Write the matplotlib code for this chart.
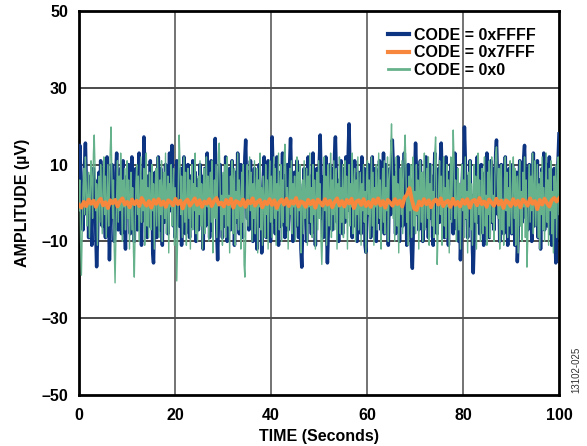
import numpy as np
import matplotlib
matplotlib.use("Agg")
import matplotlib.pyplot as plt

plt.rcParams['font.family'] = ['Liberation Sans', 'DejaVu Sans']

# CODE = 0xFFFF (navy), 600 samples over 100 s
code_ffff = [
    3, 15, 8, -2, 5, -7, 2, 10, 15.6, 6, -3, 4, -9, 1, 7, -5, -11, 3, 9, -2, 6, -8, -16.6, -10, 2, 8, -4, 11, 5, -6,
    1, 9, -3, -9, 4, 12, 7, -2, -14.8, -6, 3, 10, -1, 6, -10, -4, 8, 13, 2, -7, 5, -3, 9, -8, 0, 11, 4, -5, -12, 2,
    7, -3, 10, 5, -8, 1, 12, -4, 6, -10, 3, 9, -1, -7, 4, 13, 8, -2, -11, 5, 2, 17.2, 10, -5, 3, -9, 7, 1, -6, 11,
    -2, 6, -13, -15.6, -4, 8, 2, -9, 5, 12, -1, -7, 9, 3, -11, 6, 1, -5, 10, -3, 7, -8, 4, 13, -2, 8, 15, 5, -6, 2,
    -9, 4, 11, -3, 7, -6, 1, 9, -11, -2, 6, 12, 3, -8, 5, -4, 10, -1, -9, 7, 2, -6, 11, 4, -3, 8, -10, 1, 6, -7,
    3, 10, -5, 7, -2, -12, 4, 9, -6, 1, 13, -3, 6, -9, 2, 11, -7, 5, -1, 8, 16.8, 3, -8, -14.8, -5, 6, 10, -2, 4, -9,
    7, 1, -6, 12, 3, -10, 5, -3, 9, -7, 2, 11, -4, 6, -11, 0, 8, -5, 13, 2, -8, 4, 10, -3, -9, 6, 1, 12, 16.4, 5,
    -4, 8, -7, 2, 11, -5, 6, -10, 1, 9, -3, 7, -12, 4, -2, 10, -6, 3, -13, -8, 5, 12, -1, 7, -9, 2, 11, -4, 6, -10,
    3, 17.2, 9, -5, 1, -8, 6, 12, -2, -11, 4, 8, -6, 2, 13, -3, 7, -9, 5, -1, 10, -7, 3, 11, 16.8, 6, -4, -10, 2, 8,
    -6, 4, 11, -3, -9, 5, 1, -12, -16.7, -7, 3, 9, -2, 6, -10, 2, 12, -5, 7, -1, -8, 4, 13, -4, 6, -11, 1, 9, -3, 5,
    11, 17.7, 6, -4, 2, -9, 7, -2, 12, -6, -15.6, -8, 3, 10, -1, 5, -7, 9, 2, 13, 17.2, 8, -5, 1, -10, 6, -3, 11, 4, -8,
    2, 9, -5, 12, 6, -2, 13, 20.6, 10, -4, 3, -9, 7, -1, 11, -6, 4, -10, 2, 8, -3, 6, -8, 12, 1, -5, 9, -11, -12.8, -4,
    5, 10, -3, 7, -9, 2, 12, -6, 4, -1, 9, -10, 3, 8, -5, 11, 0, -7, 6, -2, 13, -8, 4, 10, -4, 7, -11, 1, 9, -3,
    6, 16.4, 11, -2, 4, -8, 8, -4, 12, 2, -10, 5, -1, 9, -6, 3, 13, -3, 7, -11, 1, 10, -5, 6, -8, -13, -17, -9, 4, 8,
    15.6, 9, -3, 6, -7, 2, 11, -5, 4, -10, 1, 8, -2, 12, -6, 5, -9, 3, 10, -4, 7, -1, -11, 4, 13, -3, 6, -8, 2, 9,
    -5, 11, 15.6, 7, -2, 4, -9, 1, 12, -6, 3, -11, 8, -1, 10, -4, 6, -8, 2, 13, -3, 9, -7, 5, -10, 1, -14.8, -8, 4, 10,
    6, 19.8, 12, -4, 3, -9, 7, -1, 11, -6, 2, -12, -18.2, -10, 5, 9, -3, 12, -5, 4, -8, 1, 10, -2, 6, -11, 3, 8, -4, 13,
    -2, 7, -9, 4, 11, -5, 1, 9, -7, 3, 13, 16.4, 8, -3, 5, -10, 2, 10, -4, 6, -8, 1, 12, -2, 7, -11, 4, 9, -5, 3,
    -8, 10, -3, 6, -11, 2, 8, -15.3, -9, 4, 11, -1, 7, -5, 3, 12, 15, 6, -4, 9, -7, 1, 10, -3, 5, -10, 2, 13, -6, 4,
    8, -4, 11, -9, 2, 6, -12, 1, 9, -3, 13, -7, 5, -2, 10, -6, 4, 12, -8, 3, -11, 7, -1, 9, -5, -15.6, -9, 6, 12, 18,
]

# CODE = 0x0 (green), 600 samples over 100 s
code_0 = [
    -2, 6, -10, -18.8, -7, 4, 9, -3, 12, 5, -6, 2, 8, -9, 1, 11, 6, -4, 13, 17.7, 9, -2, 5, -11, 3, 7, -5, 10, 2, -8,
    4, 12, -3, 7, -9, 1, 10, -6, 3, 14, 19.8, 8, -4, 6, -12, -20.8, -9, 2, 11, -5, 7, -2, 13, 4, -10, 6, -1, 9, -7, 3,
    11, -4, 6, -12, 2, 8, -7, 4, -13, -19.3, -8, 5, 10, -3, 7, -10, 1, 12, -5, 6, -2, 9, -11, 3, 13, -6, 4, -9, 8, 1,
    -7, 10, -2, 5, -12, 3, 9, -6, 12, 1, -9, 6, -3, 11, -10, 4, 8, -4, 13, -8, 2, 7, -13, 5, -1, 10, -6, 3, 9, -11,
    4, -8, -20.3, -10, 6, 17.7, 11, -3, 7, -9, 2, 12, -5, 8, -11, 1, 9, -4, 6, -12, 3, 10, -7, 5, -2, 13, -8, 4, -10, 7,
    -3, 11, -6, 5, -12, 2, 9, -8, 4, 12, -1, 7, -10, 3, 8, -5, 11, -13, 1, 6, -4, 10, -9, 5, 13, 15.6, 6, -7, 2, -11,
    8, -3, 10, -9, 4, 12, -6, 2, -13, 7, -1, 11, -8, 5, 9, -11, 3, -4, 13, -7, 6, 1, -12, 8, -5, 10, -16, -19.3, -9, 4,
    10, -6, 3, 12, -2, 8, -10, 5, -4, 11, -8, 2, 9, -13, 6, -1, 13, -7, 4, -11, 7, 1, -9, 10, -3, 6, -12, 3, 11, -5,
    7, -9, 2, 12, -4, 9, -11, 5, -2, 13, -7, 3, 10, -10, 6, -5, 12, 15.3, 8, -6, 4, -12, 1, 9, -3, 11, -8, 5, -1, 7,
    -10, 4, 12, -6, 8, -2, 10, -13, 3, 6, -8, 11, -4, 2, 9, -11, 7, -1, 13, -5, 4, -9, 10, -3, 6, -12, 2, 8, -7, 11,
    -4, 5, -10, -16, -8, 3, 12, -2, 7, -11, 4, 10, -6, 1, 13, -9, 6, -3, 11, -7, 2, 9, -12, 5, -1, 12, -8, 4, -5, 10,
    -9, 3, 11, -4, 7, -12, 2, 10, -6, 5, -1, 13, -8, 4, 9, -10, 6, -3, 12, -7, 1, 8, -11, 5, -2, 10, -5, 3, -13, 7,
    11, -3, 6, -9, 2, 12, -6, 8, -11, 4, -1, 10, -7, 3, 13, -4, 6, -12, 1, 9, -5, 11, -8, 4, -2, 12, -10, 6, 9, 14,
    20.6, 10, -4, 7, -10, 3, 12, -6, 5, -13, 1, 9, -3, 11, -8, 6, 13, 17.7, 9, -5, 2, -11, 7, -2, 10, -9, 4, 12, -6, 3,
    -8, 10, -3, 6, -12, 2, 11, -5, 8, -10, 4, 13, -7, 1, 9, -4, 12, -11, 5, -1, 10, -6, 3, -9, 13, 17.2, 7, -16, -8, 5,
    11, -3, 7, -11, 2, 12, -6, 4, -9, 10, -1, 6, -13, 3, 12, -5, 8, 19, 11, -4, 6, -10, 1, 9, -7, 5, -12, 3, 10, -2,
    6, -9, 12, -4, 3, -13, 8, -1, 11, -7, 5, -11, 2, 10, -5, 7, -12, 4, 13, -3, 6, -10, 1, 9, -8, 4, 12, -6, 2, -11,
    8, -3, 11, -9, 5, 12, -5, 2, -10, 7, 13, 14.6, 6, -4, 9, -12, 3, 10, -7, 1, -11, 6, 12, -2, 8, -9, 4, -6, 11, -1,
    -8, 5, 12, -4, 9, -11, 2, 7, -13, 4, 11, -6, 3, -10, 8, -1, 12, -9, 6, -16.7, -10, 3, 10, -5, 7, -2, 13, -8, 4, 11,
    -6, 2, 10, -9, 5, -12, 8, -3, 12, -7, 4, -10, 1, 13, -5, 6, -11, 9, -2, 11, -8, 3, -13, 7, -4, 10, -9, 5, 12, -3,
]

# CODE = 0x7FFF (orange), 200 samples over 100 s
code_7fff = [
    -0.5, -1.2, 0.3, -0.8, 0.9, -0.2, 0.6, -1.0, 0.4, 1.1, -0.6, 0.2, -1.3, 0.7, -0.1, 0.8, -0.9, 0.5, 1.2, -0.4,
    0.3, -1.1, 0.9, -0.3, 0.6, -0.8, 1.3, 0.1, -0.7, 0.5, -1.2, 0.8, -0.2, 1.0, -0.5, 0.4, -1.0, 0.7, 0.2, -0.6,
    1.1, -0.3, 0.6, -1.4, 0.3, 0.9, -0.7, 0.2, 1.2, -0.5, 0.7, -1.0, 0.4, -0.2, 1.0, -0.8, 0.5, 1.3, -0.4, 0.1,
    -0.9, 0.8, -0.3, 1.1, -1.2, 0.5, 0.2, -0.6, 0.9, -1.0, 0.6, -0.1, 1.2, -0.7, 0.3, 0.8, -1.1, 0.4, -0.3, 1.0,
    -0.5, 0.7, -1.3, 0.2, 0.9, -0.4, 1.1, -0.8, 0.5, -0.2, 1.3, -0.9, 0.4, 0.1, -1.0, 0.8, -0.3, 0.6, -1.2, 0.9,
    0.2, -0.7, 1.0, -0.4, 0.6, -1.1, 0.3, 1.2, -0.6, 0.5, -0.9, 0.8, -0.1, 1.1, -1.3, 0.4, 0.7, -0.5, 1.0, -0.8,
    0.3, -1.0, 0.9, -0.2, 1.2, -0.6, 0.5, -1.2, 0.8, 0.1, -0.7, 1.0, -0.3, 0.6, -0.9, 1.4, 2.2, 3.9, 0.8, -1.5,
    -1.8, 0.4, -0.6, 1.0, -0.3, 0.7, -1.1, 0.5, 0.9, -0.4, 1.2, -0.8, 0.2, 0.6, -1.0, 1.1, -0.5, 0.3, -0.9, 0.8,
    -0.2, 1.0, -1.2, 0.5, 0.8, -0.6, 1.3, -0.3, 0.4, -1.0, 0.9, 0.1, -0.7, 1.1, -0.4, 0.6, -1.3, 0.7, 0.2, -0.8,
    1.0, -0.5, 0.6, -1.1, 0.9, 0.3, -0.7, 1.2, -0.2, 0.5, -1.6, 0.8, -0.4, 1.1, 0.0, -0.9, 0.7, 1.3, 0.4, 1.2,
]

x_ticks = [0, 20, 40, 60, 80, 100]
x_labels = ['0', '20', '40', '60', '80', '100']
y_ticks = [-50, -30, -10, 10, 30, 50]
y_labels = ['\u201350', '\u201330', '\u201310', '10', '30', '50']

NAVY = '#0d3481'
ORANGE = '#f7873c'
GREEN = '#66b28c'

fig = plt.figure(figsize=(5.87, 4.46), dpi=100)
ax = fig.add_axes([79 / 587, 1 - 395 / 446, (559 - 79) / 587, (395 - 11) / 446])

t_f = np.linspace(0, 100, len(code_ffff))
t_0 = np.linspace(0, 100, len(code_0))
t_7 = np.linspace(0, 100, len(code_7fff))

ax.plot(t_f, code_ffff, color=NAVY, lw=2.5, label='CODE = 0xFFFF', zorder=3)
ax.plot(t_0, code_0, color=GREEN, lw=1.0, label='CODE = 0x0', zorder=4)
ax.plot(t_7, code_7fff, color=ORANGE, lw=2.8, label='CODE = 0x7FFF', zorder=5)

ax.set_xlim(0, 100)
ax.set_ylim(-50, 50)
ax.set_xticks(x_ticks)
ax.set_xticklabels(x_labels)
ax.set_yticks(y_ticks)
ax.set_yticklabels(y_labels)
ax.tick_params(length=0, labelsize=11.5)
ax.tick_params(axis='x', pad=9)
ax.tick_params(axis='y', pad=8)
for lab in ax.get_xticklabels() + ax.get_yticklabels():
    lab.set_fontweight('bold')

for yv in [-30, -10, 10, 30]:
    ax.axhline(yv, color='#1a1a1a', lw=1.1, zorder=1)
for xv in [20, 40, 60, 80]:
    ax.axvline(xv, color='#4d4d4d', lw=1.1, zorder=1)

for s in ax.spines.values():
    s.set_linewidth(2.0)
    s.set_color('black')

ax.set_xlabel('TIME (Seconds)', fontsize=11.5, fontweight='bold', labelpad=5)
ax.set_ylabel('AMPLITUDE (\u00b5V)', fontsize=11.5, fontweight='bold', labelpad=8)

handles, labels = ax.get_legend_handles_labels()
order = [0, 2, 1]
leg = ax.legend([handles[i] for i in order], [labels[i] for i in order],
                loc='upper right', bbox_to_anchor=(0.975, 0.985), frameon=False,
                prop={'weight': 'bold', 'size': 11.5},
                handlelength=1.35, handletextpad=0.3, labelspacing=0.15,
                borderaxespad=0.3)
for line in leg.get_lines():
    line.set_linewidth(3)
leg.get_lines()[2].set_linewidth(2)

fig.text(576 / 587, 1 - 370 / 446, '13102-025', rotation=90, fontsize=7,
         ha='center', va='center', color='#333333')

fig.savefig('out.png', dpi=100)
